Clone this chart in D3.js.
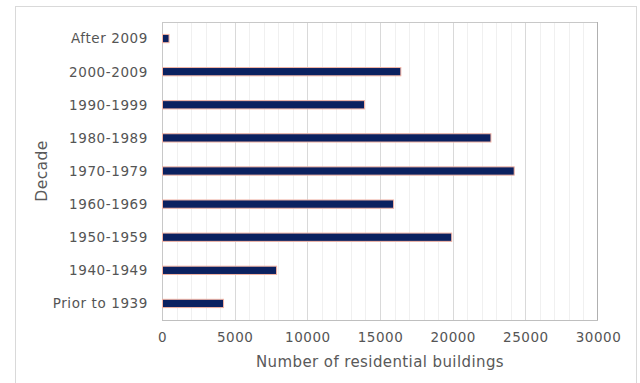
<!DOCTYPE html>
<html><head><meta charset="utf-8">
<script src="https://cdn.jsdelivr.net/npm/d3@7"></script>
<style>body{margin:0;background:#fff;}svg{display:block;}</style>
</head><body>
<script>
const categories = ["After 2009","2000-2009","1990-1999","1980-1989","1970-1979","1960-1969","1950-1959","1940-1949","Prior to 1939"];
const values = [450,16400,13900,22600,24200,15900,19900,7850,4200];
const xTicks = [0,5000,10000,15000,20000,25000,30000];
const xTitle = "Number of residential buildings";
const yTitle = "Decade";

const W=640,H=383;
const m={left:162,right:42,top:22,bottom:63};
const svg=d3.select("body").append("svg").attr("width",W).attr("height",H);
const font="'DejaVu Sans', sans-serif";
// outer frame
svg.append("rect").attr("x",15.5).attr("y",6.5).attr("width",621).attr("height",400)
  .attr("fill","#fff").attr("stroke","#d9d9d9");
const x=d3.scaleLinear().domain([0,30000]).range([m.left,W-m.right]);
const y=d3.scaleBand().domain(categories).range([m.top,H-m.bottom]).paddingInner(0.75).paddingOuter(0.375);
const g=svg.append("g");
// minor gridlines
g.selectAll(".minor").data(d3.range(0,30001,1000).filter(v=>v%5000!==0)).enter().append("line")
  .attr("x1",d=>Math.round(x(d))+0.5).attr("x2",d=>Math.round(x(d))+0.5)
  .attr("y1",m.top).attr("y2",H-m.bottom).attr("stroke","#f0f0f0");
g.selectAll(".major").data(xTicks.slice(1,-1)).enter().append("line")
  .attr("x1",d=>Math.round(x(d))+0.5).attr("x2",d=>Math.round(x(d))+0.5)
  .attr("y1",m.top).attr("y2",H-m.bottom).attr("stroke","#d9d9d9");
// plot frame
g.append("rect").attr("x",m.left+0.5).attr("y",m.top+0.5)
  .attr("width",x(30000)-m.left-1).attr("height",H-m.bottom-m.top)
  .attr("fill","none").attr("stroke","#c8c8c8");
g.append("line").attr("x1",m.left).attr("x2",W-m.right).attr("y1",H-m.bottom+0.5).attr("y2",H-m.bottom+0.5).attr("stroke","#bfbfbf");
g.append("line").attr("x1",W-m.right-0.5).attr("x2",W-m.right-0.5).attr("y1",m.top).attr("y2",H-m.bottom).attr("stroke","#b0b0b0");
// bars
g.selectAll(".bar").data(categories).enter().append("rect")
  .attr("x",x(0)+0.5).attr("y",d=>y(d))
  .attr("width",(d,i)=>x(values[i])-x(0))
  .attr("height",y.bandwidth())
  .attr("fill","#0b2160").attr("stroke","#f4b5a5").attr("stroke-width",1);
// y labels
g.selectAll(".yl").data(categories).enter().append("text")
  .attr("x",148).attr("y",d=>y(d)+y.bandwidth()/2).attr("dy","0.36em")
  .attr("text-anchor","end").attr("font-family",font).attr("font-size",13.5)
  .attr("letter-spacing","0.6px").attr("fill","#555").text(d=>d);
// x labels
const xa=svg.append("g").attr("transform",`translate(0,${H-m.bottom})`)
  .call(d3.axisBottom(x).tickValues(xTicks).tickSize(0).tickPadding(12).tickFormat(d3.format("d")));
xa.select(".domain").remove();
xa.selectAll("text").attr("font-family",font).attr("font-size",13.5).attr("letter-spacing","0.5px").attr("fill","#555");
svg.append("text").attr("x",380).attr("y",367).attr("text-anchor","middle")
  .attr("font-family",font).attr("font-size",15).attr("letter-spacing","0.4px").attr("fill","#595959").text(xTitle);
svg.append("text").attr("transform","translate(47,171) rotate(-90)").attr("text-anchor","middle")
  .attr("font-family",font).attr("font-size",15.5).attr("letter-spacing","0.4px").attr("fill","#595959").text(yTitle);
</script>
</body></html>
